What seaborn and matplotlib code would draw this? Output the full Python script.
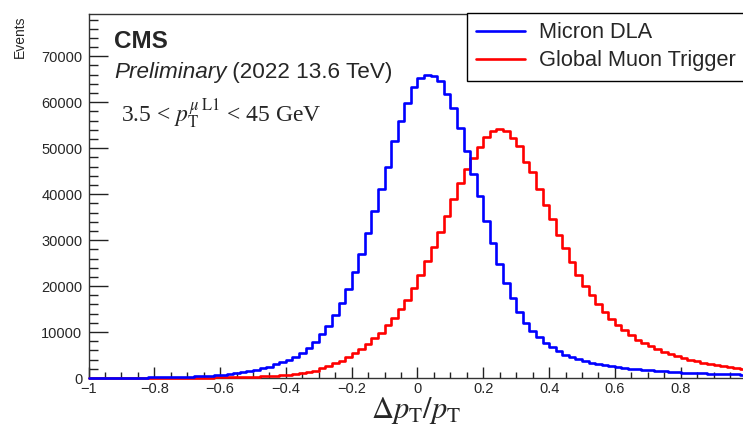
import numpy as np
import pandas as pd
import matplotlib
matplotlib.use("Agg")
import matplotlib.pyplot as plt
import seaborn as sns
from matplotlib.ticker import MultipleLocator
from matplotlib.lines import Line2D

# ---------------- data ----------------
x_min, x_max, n_bins = -1.0, 1.0, 100

micron_dla = [
    42, 47, 52, 58, 65, 73, 82, 92, 104, 118,
    135, 155, 180, 210, 245, 290, 345, 410, 490, 590,
    710, 850, 1020, 1230, 1470, 1760, 2100, 2500, 2950, 3450,
    4000, 4650, 5400, 6550, 7900, 9500, 11250, 13700, 16350, 19330,
    23100, 26950, 31450, 36330, 41030, 45940, 51550, 55880, 59900, 63250,
    65300, 66030, 65750, 64600, 61800, 58770, 54420, 49350, 44450, 39550,
    34200, 29420, 24850, 20760, 17320, 14280, 11950, 10180, 8840, 7710,
    6740, 5840, 5110, 4560, 4100, 3650, 3300, 3000, 2750, 2550,
    2350, 2180, 2020, 1880, 1750, 1640, 1530, 1430, 1340, 1260,
    1180, 1110, 1050, 990, 940, 890, 850, 810, 770, 730,
]

global_muon_trigger = [
    9, 10, 12, 13, 15, 17, 19, 21, 24, 27,
    30, 35, 40, 46, 53, 62, 72, 85, 100, 115,
    135, 160, 190, 225, 265, 310, 370, 440, 520, 610,
    720, 830, 1000, 1260, 1620, 2080, 2610, 3190, 3770, 4490,
    5360, 6300, 7390, 8620, 9700, 11450, 12970, 15040, 17070, 19680,
    22500, 25470, 28550, 31810, 35300, 38980, 42400, 45400, 47860, 50300,
    52450, 53700, 54270, 53700, 52200, 50400, 47030, 44860, 41230, 37610,
    34500, 31090, 28350, 25290, 22500, 20100, 18040, 16090, 14420, 12900,
    11520, 10350, 9250, 8330, 7610, 6880, 6230, 5720, 5220, 4780,
    4280, 3910, 3620, 3330, 3040, 2830, 2610, 2390, 2170, 2030,
]

series_names = ["Micron DLA", "Global Muon Trigger"]
series_colors = ["#0000ff", "#ff0000"]

x_ticks = [-1.0, -0.8, -0.6, -0.4, -0.2, 0.0, 0.2, 0.4, 0.6, 0.8]
x_tick_labels = ["\u22121", "\u22120.8", "\u22120.6", "\u22120.4", "\u22120.2",
                 "0", "0.2", "0.4", "0.6", "0.8"]
y_ticks = [0, 10000, 20000, 30000, 40000, 50000, 60000, 70000]
y_tick_labels = ["0", "10000", "20000", "30000", "40000", "50000", "60000", "70000"]
y_max = 79200

# ---------------- style ----------------
sns.set_style("ticks")
plt.rcParams["font.family"] = ["Liberation Sans", "DejaVu Sans"]
plt.rcParams["mathtext.fontset"] = "stix"

edges = np.linspace(x_min, x_max, n_bins + 1)
centers = 0.5 * (edges[:-1] + edges[1:])
df = pd.DataFrame({
    "x": np.concatenate([centers, centers]),
    "w": np.array(micron_dla + global_muon_trigger, dtype=float),
    "series": [series_names[0]] * n_bins + [series_names[1]] * n_bins,
})

W, H = 743, 429
fig = plt.figure(figsize=(W / 100, H / 100), dpi=100)
ax = fig.add_axes([88.5 / W, 51 / H, 658 / W, 364 / H])

# draw red first, blue on top
for name, color in reversed(list(zip(series_names, series_colors))):
    sub = df[df["series"] == name].reset_index(drop=True)
    sns.histplot(data=sub, x="x", weights="w", bins=n_bins, binrange=(x_min, x_max),
                 element="step", fill=False, color=color, linewidth=1.9, ax=ax,
                 zorder=3, clip_on=False)

ax.set_xlim(x_min, x_max)
ax.set_ylim(0, y_max)
ax.set_xlabel("")
ax.set_ylabel("")

ax.set_xticks(x_ticks, x_tick_labels)
ax.set_yticks(y_ticks, y_tick_labels)
ax.xaxis.set_minor_locator(MultipleLocator(0.05))
ax.yaxis.set_minor_locator(MultipleLocator(2000))
ax.tick_params(axis="x", which="major", direction="in", length=8, width=1,
               labelsize=10.5, pad=3, color="#222222")
ax.tick_params(axis="x", which="minor", direction="in", length=4, width=1, color="#222222")
ax.tick_params(axis="y", which="major", direction="in", length=14, width=1,
               labelsize=10.5, pad=4.5, color="#222222")
ax.tick_params(axis="y", which="minor", direction="in", length=6.5, width=1, color="#222222")
for s in ax.spines.values():
    s.set_color("#333333")
    s.set_linewidth(1.0)

# ---------------- texts ----------------
fig.text(114 / W, 1 - 47.5 / H, "CMS", fontsize=17.5, fontweight="bold", va="baseline")
t_pre = fig.text(114 / W, 1 - 78 / H, "Preliminary", fontsize=16.2, style="italic", va="baseline")
fig.canvas.draw()
bb = t_pre.get_window_extent()
fig.text(bb.x1 / W, 1 - 78 / H, " (2022 13.6 TeV)", fontsize=16.2, va="baseline")

fig.text(121 / W, 1 - 122 / H, r"3.5 < $p_{\mathrm{T}}^{\mu\;\mathrm{L1}}$ < 45 GeV",
         fontsize=17, family="Liberation Serif", va="baseline")

fig.text(416 / W, 1 - 418 / H, r"$\Delta p_{\mathrm{T}}/p_{\mathrm{T}}$",
         fontsize=22, ha="center", va="baseline")
fig.text(20 / W, 1 - 15 / H, "Events", rotation=90, ha="center", va="top", fontsize=10)

handles = [Line2D([], [], color=c, lw=1.9) for c in series_colors]
leg = fig.legend(handles, series_names, loc="upper left",
                 bbox_to_anchor=(467 / W, 1 - 13 / H), frameon=True, fancybox=False,
                 edgecolor="black", framealpha=1, fontsize=15.7, handlelength=2.25,
                 handletextpad=0.62, labelspacing=0.33, borderpad=0.42, borderaxespad=0)
leg.get_frame().set_linewidth(1.0)

fig.savefig("out.png", dpi=100)
